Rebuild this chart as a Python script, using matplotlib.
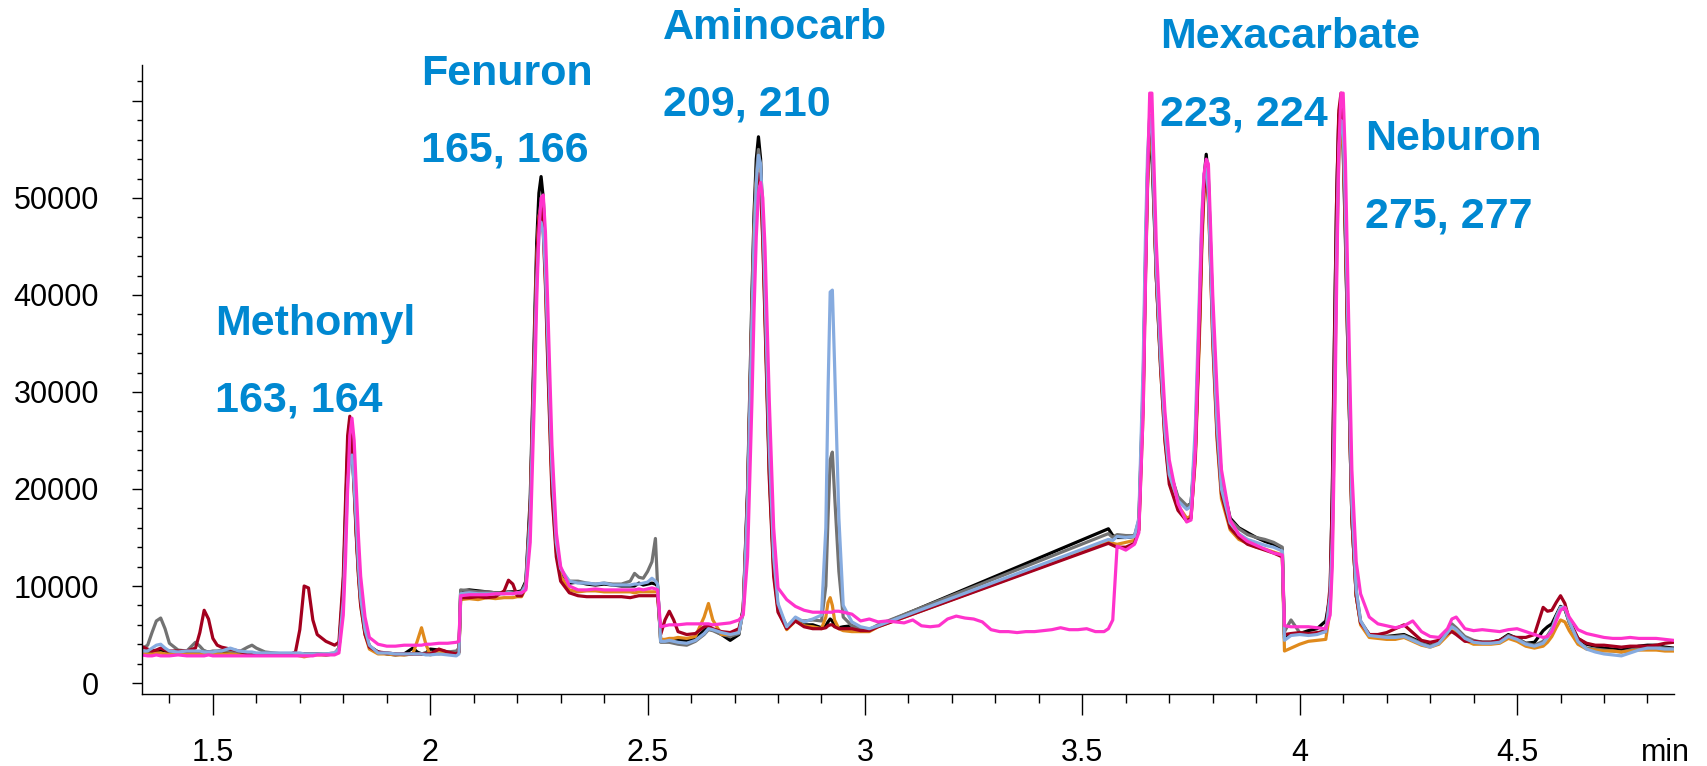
import numpy as np
import matplotlib
matplotlib.use("Agg")
import matplotlib.pyplot as plt
from matplotlib.ticker import MultipleLocator, FuncFormatter

plt.rcParams['font.family'] = ['Liberation Sans', 'DejaVu Sans']

# retention time (min), shared by all traces
t = [
    1.335, 1.35, 1.36, 1.37, 1.38, 1.39, 1.40, 1.42, 1.44, 1.46, 1.47, 1.48, 1.49, 1.50, 1.51, 1.52, 1.54,
    1.56, 1.58, 1.59, 1.60, 1.62, 1.64, 1.66, 1.68, 1.69, 1.70, 1.71, 1.72, 1.73, 1.74, 1.76, 1.78,
    1.79, 1.80, 1.805, 1.81, 1.815, 1.82, 1.825, 1.83, 1.835, 1.84, 1.85, 1.86, 1.88,
    1.90, 1.92, 1.94, 1.96, 1.97, 1.98, 1.99, 2.00, 2.02, 2.04, 2.06, 2.066,
    2.07, 2.09, 2.11, 2.13, 2.15, 2.17, 2.18, 2.19, 2.20, 2.21, 2.22,
    2.23, 2.24, 2.245, 2.25, 2.255, 2.26, 2.265, 2.27, 2.28, 2.29, 2.30, 2.32,
    2.34, 2.36, 2.38, 2.40, 2.42, 2.44, 2.46, 2.47, 2.48, 2.49, 2.50, 2.51, 2.518, 2.523,
    2.53, 2.54, 2.55, 2.56, 2.57, 2.59, 2.61, 2.63, 2.64, 2.65, 2.67, 2.69, 2.71, 2.72,
    2.73, 2.74, 2.745, 2.75, 2.755, 2.76, 2.765, 2.77, 2.78, 2.79, 2.80, 2.82, 2.84, 2.86, 2.88,
    2.90, 2.91, 2.915, 2.92, 2.925, 2.93, 2.94, 2.95, 2.97, 2.99, 3.01, 3.03,
    3.56, 3.57, 3.58, 3.60, 3.62, 3.63,
    3.64, 3.645, 3.65, 3.655, 3.66, 3.665, 3.67, 3.68, 3.69, 3.70, 3.72, 3.74, 3.75, 3.76, 3.77,
    3.775, 3.78, 3.785, 3.79, 3.795, 3.80, 3.81, 3.82, 3.84, 3.86, 3.88, 3.90, 3.92, 3.94, 3.96,
    3.965, 3.98, 4.00, 4.02, 4.04, 4.06, 4.07,
    4.075, 4.08, 4.085, 4.09, 4.095, 4.10, 4.105, 4.11, 4.12, 4.13, 4.14, 4.16,
    4.18, 4.20, 4.22, 4.24, 4.26, 4.28, 4.30, 4.32, 4.34, 4.35, 4.36, 4.38, 4.40, 4.42, 4.44, 4.46,
    4.48, 4.50, 4.52, 4.54, 4.56, 4.57, 4.58, 4.59, 4.60, 4.61, 4.62, 4.64, 4.66, 4.68, 4.70, 4.72,
    4.74, 4.76, 4.78, 4.80, 4.82, 4.84, 4.86,
]

# intensities in thousands of counts
black_k = [
    3.3, 3.2, 3.3, 3.3, 3.4, 3.3, 3.2, 3.3, 3.2, 3.2, 3.2, 3.3, 3.2, 3.1, 3.1, 3.1, 3.0,
    3.0, 3.1, 3.0, 3.0, 3.0, 3.0, 3.0, 3.0, 3.0, 3.0, 3.0, 3.0, 3.0, 3.0, 2.9, 3.0,
    3.6, 10.0, 17.0, 24.0, 27.0, 25.5, 21.0, 15.5, 11.5, 8.5, 5.2, 3.8, 3.2,
    3.0, 2.9, 3.0, 3.6, 3.2, 3.0, 3.1, 3.5, 3.4, 3.2, 3.1, 3.2,
    9.5, 9.6, 9.5, 9.4, 9.3, 9.3, 9.4, 9.4, 9.4, 9.5, 10.5,
    19.0, 37.0, 45.5, 50.5, 52.2, 50.0, 44.0, 36.0, 21.0, 14.0, 11.5, 10.3,
    10.4, 10.2, 10.1, 10.2, 10.1, 10.0, 10.0, 10.0, 10.3, 10.1, 10.2, 10.3, 10.2, 10.0,
    4.5, 4.4, 4.5, 4.5, 4.4, 4.4, 4.6, 5.4, 5.8, 5.5, 5.0, 4.4, 5.0, 7.8,
    20.0, 40.0, 48.5, 54.0, 56.3, 54.0, 47.5, 39.0, 22.0, 12.0, 7.8, 5.8, 6.6, 6.0, 6.0,
    5.7, 5.9, 6.3, 6.6, 6.4, 5.9, 5.7, 5.8, 5.9, 5.6, 5.5, 5.9,
    15.9, 15.2, 15.0, 15.0, 15.1, 16.5,
    30.0, 42.0, 51.5, 56.3, 54.5, 48.5, 42.0, 33.0, 26.0, 22.0, 19.0, 18.2, 18.5, 24.0, 38.0,
    46.5, 52.0, 54.5, 52.0, 45.0, 38.0, 28.0, 21.0, 17.0, 16.0, 15.5, 15.0, 14.6, 14.3, 13.8,
    4.6, 5.0, 5.1, 5.4, 5.6, 6.4, 9.0,
    20.0, 36.0, 50.0, 58.5, 59.5, 55.0, 46.0, 36.0, 17.0, 9.0, 6.2, 5.0,
    4.9, 4.8, 4.9, 5.0, 4.6, 4.2, 3.9, 4.2, 5.3, 5.9, 5.6, 4.6, 4.3, 4.2, 4.2, 4.4,
    5.0, 4.6, 4.1, 4.2, 5.4, 5.8, 6.1, 7.0, 7.9, 7.6, 6.3, 4.6, 4.0, 3.8, 3.6, 3.5,
    3.4, 3.6, 3.8, 3.9, 3.9, 3.7, 3.6,
]
gray_k = [
    3.5, 3.9, 5.2, 6.4, 6.7, 5.6, 4.1, 3.4, 3.3, 4.2, 3.8, 3.3, 3.2, 3.3, 3.3, 3.4, 3.3,
    3.2, 3.7, 3.9, 3.6, 3.2, 3.1, 3.0, 3.0, 3.0, 3.0, 3.0, 3.0, 3.0, 3.0, 3.0, 3.1,
    3.5, 9.0, 15.5, 21.5, 24.5, 23.8, 20.0, 15.5, 11.5, 8.5, 5.3, 3.8, 3.1,
    3.1, 3.0, 2.9, 3.0, 3.0, 3.0, 3.1, 3.1, 3.0, 3.2, 3.3, 3.6,
    9.6, 9.5, 9.4, 9.4, 9.3, 9.3, 9.4, 9.3, 9.3, 9.4, 10.3,
    18.0, 35.5, 43.5, 48.0, 49.5, 48.0, 43.0, 35.5, 21.0, 14.0, 11.5, 10.5,
    10.5, 10.3, 10.2, 10.3, 10.2, 10.2, 10.5, 11.3, 10.9, 10.8, 11.5, 12.5, 14.9, 10.0,
    4.2, 4.2, 4.2, 4.1, 4.0, 3.9, 4.3, 5.0, 5.5, 5.4, 5.0, 4.8, 5.1, 7.5,
    19.0, 38.5, 47.0, 52.5, 55.0, 53.0, 47.0, 39.0, 22.5, 12.0, 7.8, 5.6, 6.5, 6.4, 6.5,
    6.4, 10.0, 17.0, 23.0, 23.8, 19.5, 11.5, 6.8, 5.9, 5.6, 5.5, 6.0,
    15.4, 15.0, 15.3, 15.2, 15.2, 16.8,
    31.0, 43.5, 53.0, 57.5, 56.0, 49.5, 42.5, 33.5, 26.0, 22.0, 19.2, 18.3, 18.4, 25.0, 39.0,
    47.5, 52.0, 53.5, 51.0, 44.0, 37.0, 27.0, 20.5, 16.8, 15.9, 15.3, 15.0, 14.8, 14.5, 14.0,
    5.3, 6.5, 5.2, 5.0, 5.1, 5.5, 8.5,
    15.0, 30.0, 45.5, 55.5, 58.5, 56.5, 48.0, 37.5, 18.0, 9.5, 6.4, 5.0,
    4.9, 4.8, 4.8, 4.9, 4.5, 4.1, 3.8, 4.3, 5.5, 6.1, 5.7, 4.8, 4.4, 4.2, 4.2, 4.3,
    4.9, 4.6, 4.1, 3.9, 4.3, 4.9, 5.6, 6.8, 7.8, 7.7, 6.2, 4.2, 3.6, 3.5, 3.4, 3.3,
    3.2, 3.4, 3.6, 3.7, 3.7, 3.6, 3.5,
]
blue_k = [
    3.3, 3.3, 3.6, 3.9, 4.0, 3.6, 3.3, 3.2, 3.3, 3.3, 3.3, 3.2, 3.2, 3.2, 3.3, 3.3, 3.6,
    3.3, 3.2, 3.2, 3.1, 3.1, 3.1, 3.1, 3.1, 3.1, 3.1, 3.0, 3.0, 3.0, 3.0, 3.0, 3.1,
    3.5, 8.5, 14.5, 20.5, 23.0, 23.5, 20.5, 16.5, 12.0, 8.8, 5.5, 3.9, 3.1,
    3.1, 3.0, 3.0, 3.0, 3.0, 3.0, 2.9, 2.9, 3.0, 2.9, 2.8, 3.0,
    9.2, 9.3, 9.2, 9.2, 9.2, 9.2, 9.3, 9.2, 9.3, 9.3, 10.0,
    17.0, 33.5, 41.5, 46.0, 47.5, 46.5, 42.5, 36.0, 22.0, 14.5, 11.8, 10.5,
    10.3, 10.3, 10.2, 10.3, 10.1, 10.1, 10.1, 10.2, 10.2, 10.3, 10.4, 10.8, 10.5, 10.2,
    4.3, 4.3, 4.4, 4.3, 4.2, 4.1, 4.4, 5.1, 5.6, 5.5, 5.2, 5.0, 5.2, 7.4,
    18.5, 37.5, 46.0, 51.5, 54.4, 53.5, 48.0, 40.5, 24.0, 13.0, 8.2, 5.8, 6.8, 6.3, 6.6,
    7.0, 16.0, 30.0, 40.3, 40.5, 33.0, 17.0, 8.0, 6.3, 5.8, 5.6, 5.9,
    14.8, 14.7, 15.1, 15.0, 15.1, 17.0,
    33.0, 45.5, 54.5, 58.5, 57.0, 50.0, 43.0, 33.5, 26.0, 21.5, 18.8, 17.9, 18.2, 26.5, 41.0,
    48.5, 52.5, 53.0, 50.5, 43.5, 36.5, 26.5, 20.0, 16.5, 15.4, 14.8, 14.5, 14.2, 14.0, 13.6,
    4.4, 4.9, 5.0, 4.9, 5.0, 5.3, 9.0,
    15.0, 29.0, 44.5, 55.0, 58.0, 57.0, 49.0, 38.5, 18.5, 9.6, 6.4, 4.9,
    4.8, 4.7, 4.7, 4.8, 4.4, 4.0, 3.7, 4.1, 5.2, 5.8, 5.5, 4.6, 4.2, 4.1, 4.1, 4.2,
    4.8, 4.5, 4.0, 3.8, 4.1, 4.7, 5.5, 6.8, 7.8, 7.8, 6.4, 4.3, 3.5, 3.2, 3.0, 2.9,
    2.8, 3.1, 3.4, 3.6, 3.6, 3.5, 3.5,
]
orange_k = [
    3.1, 3.0, 3.0, 3.1, 3.1, 3.0, 3.0, 3.0, 3.0, 3.0, 3.0, 3.0, 3.0, 3.0, 3.0, 3.0, 3.0,
    2.9, 2.9, 2.9, 2.9, 2.9, 2.9, 2.9, 2.9, 2.9, 2.8, 2.7, 2.8, 2.9, 2.9, 2.9, 3.0,
    3.4, 9.5, 16.5, 23.5, 26.0, 24.8, 20.5, 15.5, 11.0, 8.0, 5.0, 3.5, 3.0,
    3.0, 2.9, 2.9, 3.0, 4.3, 5.7, 4.0, 2.9, 3.2, 3.0, 3.0, 3.1,
    8.6, 8.7, 8.6, 8.8, 8.7, 8.8, 8.8, 8.8, 8.9, 8.9, 9.8,
    17.5, 35.0, 43.5, 48.0, 49.0, 47.0, 41.5, 34.0, 20.0, 13.5, 11.0, 9.6,
    9.4, 9.5, 9.5, 9.4, 9.4, 9.4, 9.4, 9.3, 9.4, 9.4, 9.4, 9.4, 9.4, 9.4,
    4.5, 4.5, 4.6, 4.6, 4.7, 4.6, 4.8, 6.8, 8.2, 6.5, 5.0, 5.0, 5.3, 7.5,
    19.0, 38.0, 46.5, 51.5, 53.0, 51.5, 46.0, 38.0, 21.5, 11.5, 7.5, 5.5, 6.4, 5.9, 5.8,
    5.6, 6.8, 8.3, 8.8, 8.0, 6.5, 5.6, 5.4, 5.3, 5.3, 5.3, 5.8,
    14.5, 14.4, 14.3, 14.5, 14.7, 15.8,
    28.0, 41.0, 51.0, 57.0, 56.5, 49.5, 42.0, 32.5, 25.0, 21.0, 18.3, 17.0, 17.2, 23.0, 36.5,
    45.0, 50.5, 52.0, 49.5, 43.0, 35.0, 25.0, 19.0, 15.8, 14.8, 14.4, 14.0, 13.8, 13.5, 13.2,
    3.3, 3.6, 4.0, 4.3, 4.4, 4.5, 7.5,
    14.0, 28.0, 43.5, 54.0, 57.5, 55.5, 47.0, 36.5, 17.0, 9.0, 6.0, 4.7,
    4.6, 4.5, 4.5, 4.7, 4.3, 3.9, 3.7, 4.0, 4.9, 5.4, 5.2, 4.4, 4.0, 4.0, 4.0, 4.1,
    4.6, 4.3, 3.8, 3.6, 3.8, 4.2, 4.8, 5.7, 6.5, 6.3, 5.4, 4.0, 3.5, 3.4, 3.3, 3.3,
    3.2, 3.3, 3.4, 3.4, 3.4, 3.3, 3.3,
]
darkred_k = [
    3.8, 3.5, 3.3, 3.4, 3.6, 3.4, 3.3, 3.3, 3.3, 3.6, 5.2, 7.5, 6.6, 4.6, 3.9, 3.7, 3.5,
    3.3, 3.0, 2.9, 2.9, 2.9, 3.0, 3.0, 3.0, 3.2, 5.5, 10.0, 9.8, 6.5, 5.0, 4.3, 3.9,
    4.2, 11.0, 18.5, 25.5, 27.5, 25.0, 20.0, 15.0, 11.0, 8.0, 5.0, 3.7, 3.2,
    3.1, 3.0, 3.0, 3.0, 3.0, 3.0, 3.0, 3.0, 3.5, 3.2, 3.0, 3.2,
    8.8, 8.8, 8.9, 8.8, 8.9, 9.5, 10.6, 10.2, 9.0, 9.0, 10.0,
    18.0, 35.5, 43.5, 48.0, 49.0, 46.5, 41.0, 33.5, 19.5, 13.0, 10.5, 9.3,
    9.0, 8.9, 8.9, 8.9, 8.9, 8.9, 8.8, 8.9, 9.0, 9.0, 9.0, 9.0, 9.0, 9.0,
    5.0, 6.5, 7.4, 6.5, 5.3, 5.0, 5.1, 5.8, 5.9, 5.6, 5.3, 5.2, 5.6, 7.5,
    19.5, 38.0, 46.0, 51.0, 52.5, 51.0, 45.5, 37.5, 21.0, 11.0, 7.3, 5.6, 6.4, 5.8, 5.6,
    5.6, 5.7, 5.9, 6.0, 6.0, 5.8, 5.6, 5.6, 5.6, 5.4, 5.4, 5.8,
    14.4, 14.2, 14.0, 14.0, 14.4, 15.8,
    29.5, 42.5, 52.5, 58.5, 57.0, 49.5, 42.0, 32.5, 25.0, 20.5, 17.8, 16.7, 17.0, 23.5, 37.5,
    46.0, 51.0, 52.5, 50.0, 43.0, 35.5, 25.5, 19.5, 16.0, 15.0, 14.3, 14.0, 13.7, 13.4, 13.0,
    5.0, 5.1, 5.2, 5.1, 5.2, 5.3, 10.0,
    19.0, 35.0, 50.0, 59.0, 60.8, 57.0, 47.0, 36.0, 17.0, 9.0, 6.2, 5.0,
    5.0, 5.2, 5.6, 6.0, 5.2, 4.4, 4.2, 4.4, 5.1, 5.3, 5.0, 4.3, 4.3, 4.2, 4.2, 4.4,
    4.8, 4.7, 4.7, 5.0, 7.8, 7.4, 7.5, 8.3, 9.0, 8.2, 6.5, 4.6, 4.1, 3.9, 3.9, 3.8,
    3.7, 3.8, 3.8, 3.8, 3.9, 4.1, 4.2,
]
magenta_k = [
    2.9, 2.8, 2.8, 2.9, 2.8, 2.8, 2.8, 2.9, 2.8, 2.8, 2.8, 2.8, 2.9, 2.8, 2.8, 2.8, 2.8,
    2.8, 2.8, 2.8, 2.8, 2.8, 2.8, 2.8, 2.8, 2.8, 2.8, 2.8, 2.8, 2.8, 2.9, 2.9, 2.9,
    3.1, 7.0, 12.5, 20.0, 25.5, 27.3, 25.0, 20.0, 15.0, 11.0, 6.8, 4.7, 4.0,
    3.8, 3.8, 3.9, 3.9, 3.9, 3.9, 4.0, 4.0, 4.1, 4.1, 4.2, 4.3,
    9.0, 9.1, 9.1, 9.1, 9.2, 9.2, 9.2, 9.2, 9.3, 9.3, 9.6,
    14.5, 30.0, 39.5, 46.5, 50.0, 50.3, 46.5, 39.5, 24.5, 15.5, 12.0, 10.0,
    9.6, 9.6, 9.7, 9.6, 9.6, 9.6, 9.6, 9.6, 9.7, 9.6, 9.7, 9.8, 9.7, 9.6,
    5.8, 5.9, 6.0, 6.0, 6.0, 6.1, 6.1, 6.1, 6.1, 6.0, 6.1, 6.2, 6.5, 7.0,
    13.0, 29.0, 38.5, 46.0, 50.5, 51.6, 50.0, 45.0, 29.0, 16.0, 9.8, 8.6, 7.9, 7.5, 7.3,
    7.3, 7.3, 7.3, 7.3, 7.3, 7.4, 7.4, 7.3, 7.1, 6.4, 6.6, 6.3,
    5.6, 6.5, 14.1, 13.7, 14.3, 15.5,
    28.0, 40.5, 52.0, 60.8, 60.8, 53.0, 45.5, 36.0, 28.0, 23.0, 18.5, 16.6, 16.8, 24.0, 39.5,
    47.5, 52.5, 54.0, 53.5, 47.0, 40.0, 30.0, 22.0, 16.8, 15.3, 14.6, 14.2, 13.8, 13.4, 13.2,
    5.9, 5.8, 5.8, 5.8, 5.7, 5.6, 7.0,
    12.0, 25.0, 41.0, 55.0, 60.8, 60.8, 54.0, 43.0, 22.0, 12.5, 9.2, 6.8,
    6.1, 5.9, 5.7, 5.9, 6.4, 5.3, 4.8, 4.7, 5.6, 6.6, 6.8, 5.6, 5.4, 5.5, 5.4, 5.3,
    5.5, 5.6, 5.3, 5.0, 4.7, 4.8, 5.3, 6.4, 7.5, 7.8, 6.8, 5.5, 5.1, 4.9, 4.7, 4.6,
    4.6, 4.7, 4.6, 4.6, 4.6, 4.5, 4.4,
]
# the magenta run also has data where the other runs skip (3.03 - 3.56 min)
t_gap = [3.05, 3.07, 3.09, 3.11, 3.13, 3.15, 3.17, 3.19, 3.21, 3.23, 3.25, 3.27, 3.29,
         3.31, 3.33, 3.35, 3.37, 3.39, 3.41, 3.43, 3.45, 3.47, 3.49, 3.51, 3.53, 3.55]
magenta_gap_k = [6.4, 6.3, 6.2, 6.5, 5.9, 5.8, 5.9, 6.6, 6.9, 6.7, 6.6, 6.3, 5.5,
                 5.3, 5.3, 5.2, 5.3, 5.3, 5.4, 5.5, 5.7, 5.5, 5.5, 5.6, 5.3, 5.3]

peaks = ["Methomyl", "Fenuron", "Aminocarb", "Mexacarbate", "Neburon"]
masses = ["163, 164", "165, 166", "209, 210", "223, 224", "275, 277"]

for name, s in [("black", black_k), ("gray", gray_k), ("blue", blue_k),
                ("orange", orange_k), ("darkred", darkred_k), ("magenta", magenta_k)]:
    assert len(s) == len(t), (name, len(s), len(t))

W, H = 1708, 766
fig = plt.figure(figsize=(W / 100, H / 100), dpi=100)
ax = fig.add_axes([142 / W, 1 - 694 / H, (1674 - 142) / W, (694 - 65) / H])

tt = np.array(t)
cut = int(np.searchsorted(tt, 3.56))
t_mag = np.concatenate([tt[:cut], t_gap, tt[cut:]])
mag = np.concatenate([magenta_k[:cut], magenta_gap_k, magenta_k[cut:]])

lw = 2.3
ax.plot(tt, np.array(black_k) * 1000, color="#000000", lw=lw)
ax.plot(tt, np.array(gray_k) * 1000, color="#727272", lw=lw)
ax.plot(tt, np.array(orange_k) * 1000, color="#E08A1C", lw=lw)
ax.plot(tt, np.array(darkred_k) * 1000, color="#A3001E", lw=lw)
ax.plot(tt, np.array(blue_k) * 1000, color="#86ABDF", lw=lw)
ax.plot(t_mag, mag * 1000, color="#FF33CC", lw=lw)

ax.set_xlim(1.337, 4.861)
ax.set_ylim(-1130, 63700)

for side in ["top", "right"]:
    ax.spines[side].set_visible(False)
for side in ["left", "bottom"]:
    ax.spines[side].set_linewidth(1.0)

ax.xaxis.set_major_locator(MultipleLocator(0.5))
ax.xaxis.set_minor_locator(MultipleLocator(0.1))
ax.xaxis.set_major_formatter(FuncFormatter(lambda v, p: "%g" % v))
ax.set_yticks(range(0, 60001, 10000))
ax.set_yticklabels(["0", "10000", "20000", "30000", "40000", "50000", ""])
ax.yaxis.set_minor_locator(MultipleLocator(2000))

ax.tick_params(axis="x", which="major", length=15, width=1.0, pad=16.5, labelsize=22)
ax.tick_params(axis="x", which="minor", length=6.5, width=1.0)
ax.tick_params(axis="y", which="major", length=7, width=1.0, pad=24, labelsize=22)
ax.tick_params(axis="y", which="minor", length=3.5, width=1.0)

fig.text(1665 / W, 1 - 761 / H, "min", fontsize=22, ha="center", va="baseline")

# compound labels: (left px, baseline px of name)
label_pos = [(215, 335), (421, 85), (663, 39), (1160, 48), (1365, 150)]
blue_txt = "#0088D1"
for name, mz, (x, y) in zip(peaks, masses, label_pos):
    fig.text(x / W, 1 - y / H, name, fontsize=31, fontweight="bold", color=blue_txt,
             ha="left", va="baseline")
    fig.text(x / W, 1 - (y + 77) / H, mz, fontsize=31, fontweight="bold", color=blue_txt,
             ha="left", va="baseline")

fig.savefig("out.png", dpi=100)
